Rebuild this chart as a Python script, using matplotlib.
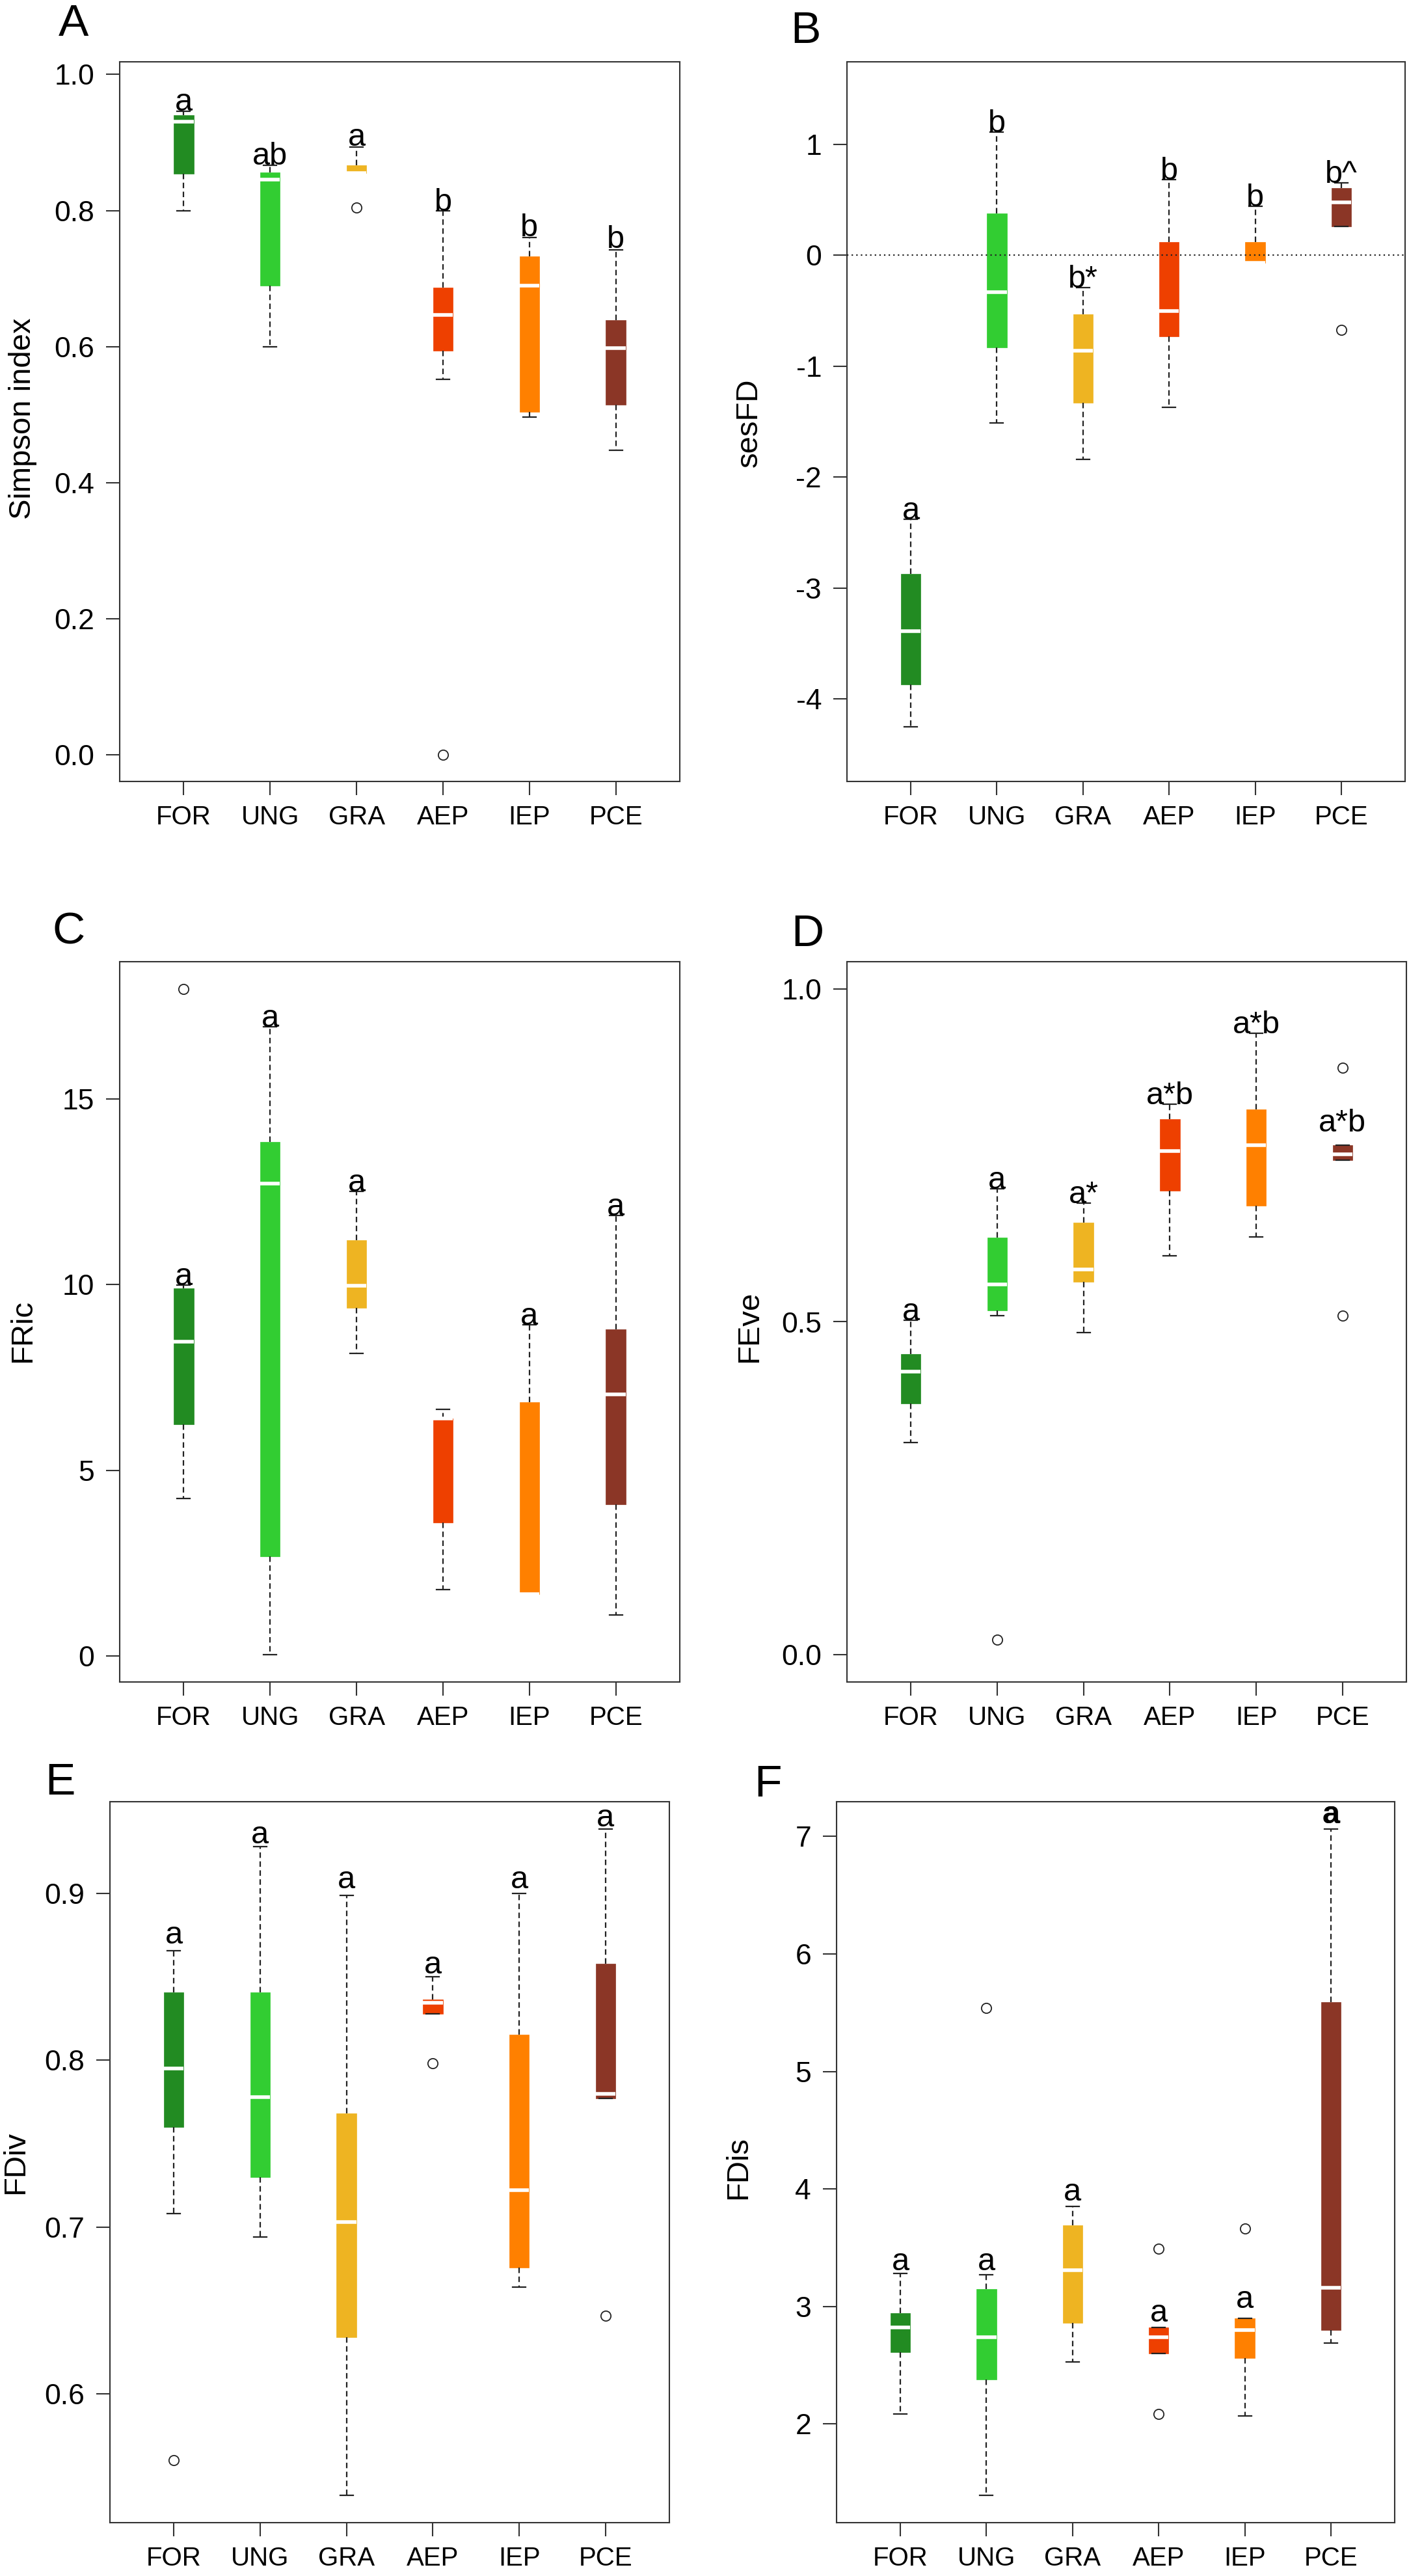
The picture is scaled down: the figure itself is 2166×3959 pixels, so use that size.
import matplotlib.pyplot as plt
import numpy as np

plt.rcParams['font.family'] = ['Liberation Sans', 'DejaVu Sans']

groups = ['FOR', 'UNG', 'GRA', 'AEP', 'IEP', 'PCE']
colors = ['#228B22', '#32CD32', '#EEB422', '#EE4000', '#FF8000', '#8B3626']

# rows: lower whisker, Q1, median, Q3, upper whisker (one row per group)
simpson_stats = [[0.800, 0.854, 0.931, 0.940, 0.946],
                 [0.600, 0.690, 0.845, 0.856, 0.866],
                 [0.855, 0.855, 0.855, 0.866, 0.893],
                 [0.552, 0.594, 0.647, 0.687, 0.800],
                 [0.496, 0.504, 0.690, 0.733, 0.760],
                 [0.448, 0.515, 0.598, 0.639, 0.742]]
simpson_out = [[], [], [0.804], [0.0], [], []]
simpson_letters = ['a', 'ab', 'a', 'b', 'b', 'b']
simpson_letter_y = [0.947, 0.867, 0.895, 0.800, 0.762, 0.745]

sesfd_stats = [[-4.25, -3.87, -3.39, -2.87, -2.38],
               [-1.51, -0.83, -0.33, 0.377, 1.11],
               [-1.84, -1.33, -0.86, -0.53, -0.29],
               [-1.37, -0.73, -0.50, 0.12, 0.68],
               [-0.07, -0.07, -0.07, 0.12, 0.44],
               [0.26, 0.26, 0.476, 0.605, 0.655]]
sesfd_out = [[], [], [], [], [], [-0.675]]
sesfd_letters = ['a', 'b', 'b*', 'b', 'b', 'b^']
sesfd_letter_y = [-2.38, 1.11, -0.29, 0.68, 0.44, 0.655]

fric_stats = [[4.24, 6.24, 8.46, 9.89, 9.99],
              [0.04, 2.68, 12.72, 13.83, 16.94],
              [8.15, 9.37, 9.96, 11.20, 12.51],
              [1.78, 3.60, 6.40, 6.40, 6.64],
              [1.67, 1.67, 1.67, 6.83, 8.92],
              [1.11, 4.08, 7.05, 8.80, 11.86]]
fric_out = [[17.95], [], [], [], [], []]
fric_letters = ['a', 'a', 'a', '', 'a', 'a']
fric_letter_y = [9.99, 16.94, 12.51, 6.64, 8.92, 11.86]

feve_stats = [[0.319, 0.377, 0.425, 0.452, 0.502],
              [0.509, 0.517, 0.556, 0.627, 0.700],
              [0.484, 0.560, 0.579, 0.649, 0.678],
              [0.599, 0.697, 0.757, 0.804, 0.827],
              [0.628, 0.674, 0.765, 0.819, 0.933],
              [0.743, 0.743, 0.752, 0.765, 0.765]]
feve_out = [[], [0.023], [], [], [], [0.882, 0.509]]
feve_letters = ['a', 'a', 'a*', 'a*b', 'a*b', 'a*b']
feve_letter_y = [0.502, 0.700, 0.678, 0.827, 0.933, 0.786]

fdiv_stats = [[0.708, 0.760, 0.795, 0.8405, 0.8656],
              [0.694, 0.730, 0.778, 0.8405, 0.928],
              [0.539, 0.634, 0.703, 0.768, 0.899],
              [0.828, 0.828, 0.8345, 0.8365, 0.850],
              [0.664, 0.6755, 0.722, 0.8155, 0.900],
              [0.777, 0.777, 0.780, 0.858, 0.9387]]
fdiv_out = [[0.560], [], [], [0.798], [], [0.6466]]
fdiv_letters = ['a', 'a', 'a', 'a', 'a', 'a']
fdiv_letter_y = [0.870, 0.930, 0.903, 0.852, 0.903, 0.940]

fdis_stats = [[2.084, 2.611, 2.822, 2.944, 3.281],
              [1.395, 2.380, 2.740, 3.150, 3.270],
              [2.530, 2.860, 3.310, 3.690, 3.850],
              [2.600, 2.600, 2.740, 2.820, 2.820],
              [2.070, 2.560, 2.800, 2.900, 2.900],
              [2.690, 2.800, 3.160, 5.590, 7.060]]
fdis_out = [[], [5.54], [], [3.49, 2.084], [3.665], []]
fdis_letters = ['a', 'a', 'a', 'a', 'a', 'a']
fdis_letter_y = [3.31, 3.31, 3.90, 2.87, 2.99, 7.11]

W, H = 2166, 3959
fig = plt.figure(figsize=(W / 100, H / 100), dpi=100)


def px_axes(l, t, r, b):
    return fig.add_axes([l / W, 1 - b / H, (r - l) / W, (b - t) / H])


def draw_panel(ax, stats, outliers, letters, letter_y, ylim, yticks, yticklabels):
    pos = np.arange(1, len(groups) + 1)
    bstats = [dict(whislo=s[0], q1=s[1], med=s[2], q3=s[3], whishi=s[4], fliers=o)
              for s, o in zip(stats, outliers)]
    art = ax.bxp(bstats, positions=pos, widths=0.23, capwidths=0.15, patch_artist=True,
                 boxprops=dict(linewidth=0.5),
                 medianprops=dict(color='white', linewidth=4, solid_capstyle='butt'),
                 whiskerprops=dict(color='#222222', linewidth=1.6, linestyle=(0, (3.8, 2.4))),
                 capprops=dict(color='#222222', linewidth=1.6),
                 flierprops=dict(marker='o', markersize=11, markerfacecolor='none',
                                 markeredgecolor='#222222', markeredgewidth=1.3))
    for patch, c in zip(art['boxes'], colors):
        patch.set_facecolor(c)
        patch.set_edgecolor(c)
    for x, lab, y in zip(pos, letters, letter_y):
        ax.text(x, y, lab, ha='center', va='baseline', fontsize=35)
    ax.set_xlim(0.26, 6.74)
    ax.set_ylim(*ylim)
    ax.set_xticks(pos, groups)
    ax.set_yticks(yticks, yticklabels)
    for sp in ax.spines.values():
        sp.set_linewidth(1.5)
        sp.set_color('#333333')
    ax.tick_params(direction='out', length=15, width=1.5, color='#333333')
    ax.tick_params(axis='x', labelsize=29, pad=11)
    ax.tick_params(axis='y', labelsize=32, pad=13)
    return art


axA = px_axes(184, 95, 1045, 1201)
draw_panel(axA, simpson_stats, simpson_out, simpson_letters, simpson_letter_y,
           (-0.039, 1.0185), [0, 0.2, 0.4, 0.6, 0.8, 1.0], ['0.0', '0.2', '0.4', '0.6', '0.8', '1.0'])

axB = px_axes(1302, 95, 2160, 1201)
draw_panel(axB, sesfd_stats, sesfd_out, sesfd_letters, sesfd_letter_y,
           (-4.744, 1.744), [-4, -3, -2, -1, 0, 1], ['-4', '-3', '-2', '-1', '0', '1'])
axB.axhline(0, color='#222222', lw=1.6, ls=(0, (1, 2.2)), zorder=5)

axC = px_axes(184, 1478, 1045, 2585)
draw_panel(axC, fric_stats, fric_out, fric_letters, fric_letter_y,
           (-0.70, 18.69), [0, 5, 10, 15], ['0', '5', '10', '15'])

axD = px_axes(1302, 1478, 2162, 2585)
draw_panel(axD, feve_stats, feve_out, feve_letters, feve_letter_y,
           (-0.041, 1.041), [0, 0.5, 1.0], ['0.0', '0.5', '1.0'])

axE = px_axes(169, 2769, 1029, 3877)
draw_panel(axE, fdiv_stats, fdiv_out, fdiv_letters, fdiv_letter_y,
           (0.5227, 0.955), [0.6, 0.7, 0.8, 0.9], ['0.6', '0.7', '0.8', '0.9'])

axF = px_axes(1286, 2769, 2144, 3877)
draw_panel(axF, fdis_stats, fdis_out, fdis_letters, fdis_letter_y,
           (1.161, 7.295), [2, 3, 4, 5, 6, 7], ['2', '3', '4', '5', '6', '7'])
# the PCE letter in F is overprinted in the original
axF.text(6, fdis_letter_y[5], 'a', ha='center', va='baseline', fontsize=35, fontweight='bold')

ylabels = [('Simpson index', 35, 643), ('sesFD', 1152, 650), ('FRic', 35, 2046),
           ('FEve', 1152, 2039), ('FDiv', 24, 3323), ('FDis', 1135, 3332)]
for txt, x, y in ylabels:
    fig.text(x / W, 1 - y / H, txt, rotation=90, ha='center', va='center', fontsize=34)

panel_tags = [('A', 90, 37), ('B', 1215, 48), ('C', 80, 1432),
              ('D', 1216, 1436), ('E', 69, 2740), ('F', 1159, 2743)]
for tag, x, y in panel_tags:
    fig.text(x / W, 1 - y / H, tag, ha='left', va='center', fontsize=50)

fig.savefig('out.png', dpi=100)
